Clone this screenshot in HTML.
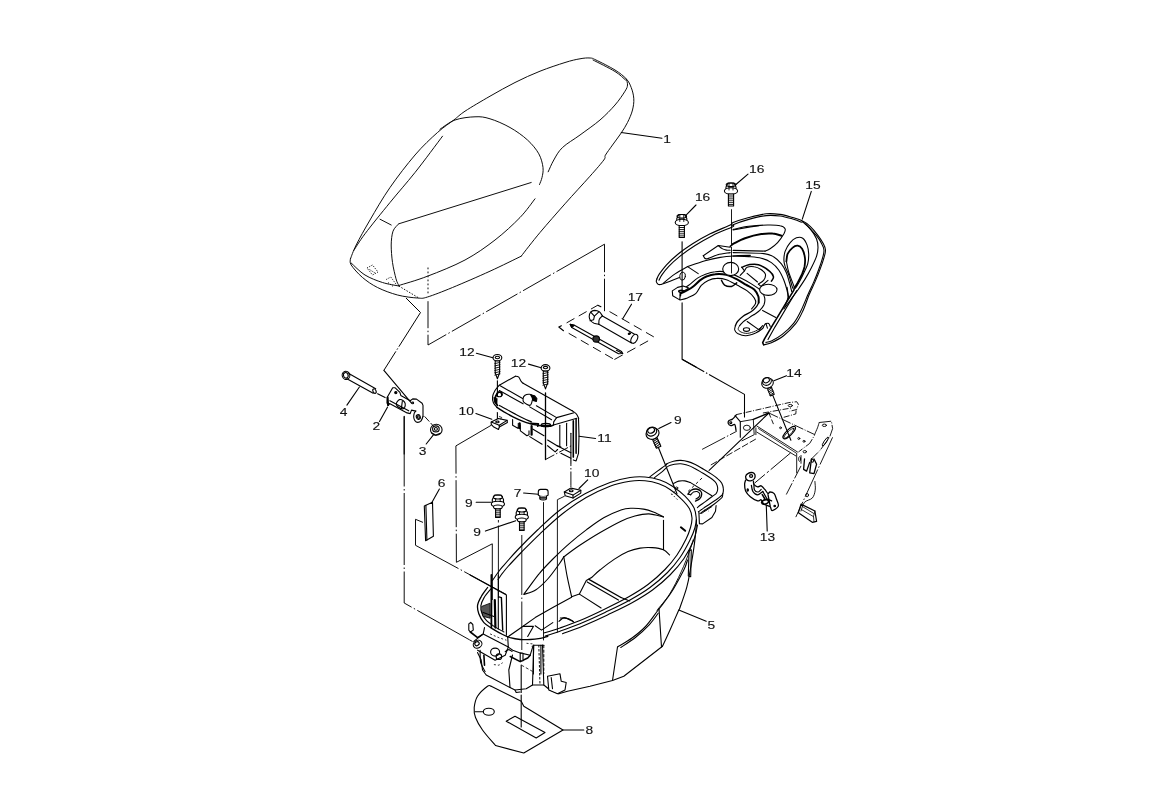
<!DOCTYPE html>
<html><head><meta charset="utf-8"><title>Seat parts diagram</title>
<style>
html,body{margin:0;padding:0;background:#fff;}
body{width:1156px;height:790px;overflow:hidden;font-family:"Liberation Sans",sans-serif;}
svg{display:block;filter:grayscale(1);}
svg path,svg ellipse,svg circle,svg line,svg rect{fill:none;stroke:#000;stroke-width:1.1;stroke-linecap:round;stroke-linejoin:round;}
svg text{font-family:"Liberation Sans",sans-serif;font-size:11.5px;fill:#111;stroke:#111;stroke-width:.13px;text-anchor:middle;}
svg .w{fill:#fff;}
svg .seat path{stroke-width:.95;}
</style></head><body>
<svg width="1156" height="790" viewBox="0 0 1156 790">
<g class="seat">
<path d="M350.5 258.8C351.4 256.5 352.9 251.5 356.2 245C359.4 238.5 364.4 229.6 370 220C375.6 210.4 382.5 198.3 390 187.5C397.5 176.7 407.1 164.2 415 155C422.9 145.8 431 138.3 437.5 132.5C444 126.7 449.2 123.5 453.8 120C458.4 116.5 459 115.2 465 111.2C471 107.2 481.7 101 490 96.2C498.3 91.4 506.7 86.7 515 82.5C523.3 78.3 531.7 74.5 540 71.2C548.3 67.9 558.3 64.6 565 62.5C571.7 60.4 575.8 59.5 580 58.8C584.2 58 587.3 57.8 590 58C592.7 58.2 591.8 58 596 60C600.2 62 610 66.9 615 70C620 73.1 623.5 75.9 626.2 78.8C628.9 81.7 629.9 84.2 631.2 87.5C632.5 90.8 633.6 95 633.8 98.8C634 102.5 633.5 106 632.5 110C631.5 114 629.4 118.7 627.5 122.5C625.6 126.3 623.7 129.2 621.2 133C618.7 136.8 615.1 141.3 612.5 145C609.9 148.7 607 152.5 605.5 155C604 157.5 606.4 156.5 603.8 160C601.2 163.5 596.5 168.9 590 176.2C583.5 183.5 573.3 194.4 565 203.8C556.7 213.2 547.3 223.8 540 232.5C532.7 241.2 524.3 252.2 521.2 256.2"/>
<path d="M521.2 256.2C516 258.7 501.4 266 490 271.2C478.6 276.4 462.9 283.2 452.5 287.5C442.1 291.8 433.3 295.2 427.5 297C421.7 298.8 422.5 298.3 417.5 298C412.5 297.7 404.2 296.8 397.5 295C390.8 293.2 383.3 290.4 377.5 287.5C371.7 284.6 366.9 281.2 362.5 277.5C358.1 273.8 353.2 268.1 351.2 265C349.2 261.9 350.6 259.8 350.5 258.8"/>
<path d="M593 60C596.7 61.9 609.6 68.2 615 71.5C620.4 74.8 623.8 78.6 625.5 80"/>
<path d="M626.2 78.8C626.5 79.8 627.7 82.9 627.5 85C627.3 87.1 627.1 87.9 625 91.2C622.9 94.6 619.2 100.2 615 105C610.8 109.8 605.8 115 600 120C594.2 125 586.2 130.4 580 135C573.8 139.6 566.9 143.3 562.5 147.5C558.1 151.7 556.1 156 553.8 160C551.4 164 549.2 169.8 548.2 171.8"/>
<path d="M440 129.2C442.5 127.7 449.2 122.1 455 120C460.8 117.9 469.2 117 475 116.8C480.8 116.5 484.2 117 490 118.8C495.8 120.5 503.8 124 510 127.5C516.2 131 522.7 135.6 527.5 140C532.3 144.4 536.2 149.2 538.8 153.8C541.3 158.3 542.5 163.5 543 167.5C543.5 171.5 542.6 174.7 542 177.5C541.4 180.3 539.9 183.3 539.5 184.5"/>
<path d="M535 198.8C532.5 201.9 526.7 210.6 520 217.5C513.3 224.4 504.2 232.9 495 240C485.8 247.1 476.2 254 465 260C453.8 266 438.5 272 427.5 276.2C416.5 280.5 403.5 284 398.8 285.5"/>
<path d="M398.8 223.8L531.2 182.5"/>
<path d="M398.8 223.8C397.8 225 394.2 227.7 393 231.2C391.8 234.8 391.3 239.8 391.2 245C391.2 250.2 391.7 256.9 392.5 262.5C393.3 268.1 395 274.9 396 278.8C397 282.6 398.3 284.4 398.8 285.5"/>
<path d="M380 219.2L391.2 225"/>
<path d="M442.5 136.2C437.9 142.3 423.8 161.5 415 172.5C406.2 183.5 398.3 192.3 390 202.5C381.7 212.7 371 225.8 365 233.8C359 241.8 355.6 247.7 353.8 250.5"/>
<path d="M351.2 263C353.5 265 359.8 271.8 365 275C370.2 278.2 376.9 280.7 382.5 282.5C388.1 284.3 396 285.4 398.8 286"/>
<path d="M398.8 286L418.8 298" style="stroke-width:0.95;stroke-dasharray:1.5 1.5;stroke-linecap:butt;"/>
<path d="M367 268L372.5 265L378 272L372.5 275Z" style="stroke-width:0.9;stroke-dasharray:1.2 1.3;stroke-linecap:butt;"/>
<path d="M369.5 269.5L375 273" style="stroke-width:0.9;stroke-dasharray:1.2 1.3;stroke-linecap:butt;"/>
<path d="M386.2 279.5L390.8 277L397 285.5" style="stroke-width:0.9;stroke-dasharray:1.2 1.3;stroke-linecap:butt;"/>
<path d="M388 282.5L393.8 287" style="stroke-width:0.9;stroke-dasharray:1.2 1.3;stroke-linecap:butt;"/>
<path d="M428 267.5L428 295" style="stroke-width:0.95;stroke-dasharray:1.8 2.2;stroke-linecap:butt;"/>
</g>
<path d="M621.2 132.5L662 138.2"/>
<text transform="translate(667 142.8) scale(1.2 1)">1</text>
<path d="M428 301.2L428 345" style="stroke-width:0.95;stroke-dasharray:27 2.5 1.5 2.5;stroke-linecap:butt;"/>
<path d="M428 345L604.5 244.2" style="stroke-width:0.95;stroke-dasharray:21 2.5 1.5 2.5 33 2.5 1.5 2.5 36 2.5 1.5 2.5 32 2.5 1.5 2.5 60 0;stroke-linecap:butt;"/>
<path d="M604.5 244.2L604.5 311.2" style="stroke-width:0.95;stroke-dasharray:28 2.5 1.5 2.5 40 0;stroke-linecap:butt;"/>
<path d="M406 298L420.5 312.5L383.9 370.3" style="stroke-width:1;stroke-dasharray:61 2 1.5 2 60 0;stroke-linecap:butt;"/>
<path d="M383.9 370.3L411.5 403.2"/>
<path d="M566.6 322.9L597.8 305.2" style="stroke-width:0.95;stroke-dasharray:9 5;stroke-linecap:butt;"/>
<path d="M561.4 325.7L558.8 327L563.5 330.7"/>
<path d="M568.7 333.3L614.4 359.5" style="stroke-width:0.95;stroke-dasharray:9 5;stroke-linecap:butt;"/>
<path d="M614.4 359.5L649.7 340" style="stroke-width:0.95;stroke-dasharray:9.5 5;stroke-linecap:butt;"/>
<path d="M653.8 336.9L606.6 309.9" style="stroke-width:0.95;stroke-dasharray:9 5;stroke-linecap:butt;"/>
<path d="M597.8 305.2L600.9 306.8"/>
<path d="M598.8 324.2C598 324.1 595.5 323.8 594.1 323.2C592.8 322.6 591.5 321.9 590.7 320.8C589.9 319.7 589.2 318.1 589.2 316.7C589.2 315.2 589.8 313.2 590.7 312.2C591.6 311.2 593.4 310.5 594.8 310.4C596.3 310.4 598 310.9 599.3 311.8C600.6 312.7 601.9 315.2 602.4 315.9"/>
<path d="M602.4 315.9C601.9 316.5 599.9 317.9 599.3 319.3C598.7 320.6 598.9 323.4 598.8 324.2"/>
<path d="M602.4 315.9L634.6 334.3"/>
<path d="M598.8 324.2L631.5 342.9"/>
<ellipse cx="634.3" cy="338.8" rx="2.9" ry="4.8" transform="rotate(28 634.3 338.8)"/>
<path d="M590.7 312.2L594.4 316.1L593.6 319.8L590 320.8"/>
<path d="M594.4 316.1L598.6 312.2"/>
<ellipse cx="629.4" cy="333.6" rx="1.2" ry="0.7" transform="rotate(-20 629.4 333.6)" style="fill:#000;"/>
<path d="M570.2 324.4L574.4 325.3L621.6 351.6L622.7 353.5L618.5 353.7L571.8 327.4Z"/>
<path d="M570.2 324.4L574.4 325.3L571.8 327.4Z" style="fill:#000;"/>
<path d="M616.4 350.2L622.7 353.5"/>
<ellipse cx="596.2" cy="339" rx="3.3" ry="3.1" style="fill:#333;"/>
<path d="M631.5 304.2L622.7 318.7"/>
<text transform="translate(635.3 300.5) scale(1.2 1)">17</text>
<ellipse cx="346" cy="375.3" rx="3.8" ry="4.1" transform="rotate(-20 346 375.3)"/>
<ellipse cx="345.8" cy="375.3" rx="2.3" ry="2.8" transform="rotate(-20 345.8 375.3)"/>
<path d="M348.8 373.5L375.7 388.8"/>
<path d="M346.9 378.8L373.2 393.2"/>
<ellipse cx="374.5" cy="391.1" rx="1.5" ry="2.4" transform="rotate(-25 374.5 391.1)"/>
<path d="M359.4 387L346.9 405.1"/>
<text transform="translate(343.5 416.2) scale(1.2 1)">4</text>
<path d="M377.6 393.8L385.1 397.6"/>
<path d="M387.4 397L392.7 387.8L395.2 387.8L399.9 392.3L400.8 395.4L410.2 400.7L412.7 398.9L416.5 399.1L422.1 403.2L423 405.4L423 416.4"/>
<path d="M423 416.4C422.7 417.1 422 419.8 421.1 420.8C420.2 421.8 418.7 422.4 417.7 422.4C416.7 422.4 415.6 421.7 415 420.8C414.3 419.9 413.8 418.3 413.7 417C413.6 415.8 413.9 414.3 414.2 413.3C414.6 412.3 415.6 411.5 415.8 411.1"/>
<path d="M415.8 411.1L411.5 410.1L410.2 413.6L407.1 412.9L389.5 403.6L388.3 405.4L387 402.9L387.4 397"/>
<path d="M387.6 397.4L388.1 405.1" style="stroke-width:2;"/>
<path d="M389.9 400.7L408.7 410.8"/>
<ellipse cx="395.8" cy="392.6" rx="1.1" ry="1.1" style="fill:#000;"/>
<ellipse cx="412.7" cy="402.9" rx="0.9" ry="0.9"/>
<ellipse cx="418.3" cy="417" rx="2" ry="2.3" transform="rotate(-20 418.3 417)"/>
<ellipse cx="418.3" cy="417" rx="1" ry="1.3" transform="rotate(-20 418.3 417)"/>
<path d="M397 402C397.6 401.2 398.5 399.8 399.5 399.6C400.6 399.4 402.4 400.1 403.3 400.7C404.2 401.4 405 402.5 405.2 403.6C405.4 404.8 405 406.8 404.6 407.6C404.1 408.5 403.5 409 402.4 408.9C401.4 408.8 399.3 407.7 398.3 407C397.3 406.3 396.6 405.5 396.4 404.6C396.2 403.8 396.5 402.8 397 402Z"/>
<path d="M402.3 401.4L401.4 408.4"/>
<path d="M404.2 416.4L404.2 454"/>
<path d="M387.6 407L379.5 421.4"/>
<text transform="translate(376.4 430.4) scale(1.2 1)">2</text>
<ellipse cx="436.3" cy="429.7" rx="5.8" ry="5.5"/>
<ellipse cx="435.9" cy="428.9" rx="3.3" ry="3"/>
<ellipse cx="435.9" cy="428.9" rx="1.5" ry="1.4"/>
<path d="M431.5 432.7L435.3 435.2L440.3 433.3"/>
<path d="M424.6 416.4L434 426.7" style="stroke-width:0.95;stroke-dasharray:7 2;stroke-linecap:butt;"/>
<path d="M434 434.2L426.2 444"/>
<text transform="translate(422.5 454.9) scale(1.2 1)">3</text>
<ellipse cx="497.4" cy="357.8" rx="4.4" ry="3.3" class="w"/>
<ellipse cx="497.4" cy="357.5" rx="2.2" ry="1.2"/>
<path d="M495.2 361L495.2 372.8L497.4 378.8L499.6 372.8L499.6 361Z" style="fill:#fff;"/>
<path d="M494.8 363.6L500 362.4" style="stroke-width:0.9;"/>
<path d="M494.8 365.9L500 364.7" style="stroke-width:0.9;"/>
<path d="M494.8 368.2L500 367" style="stroke-width:0.9;"/>
<path d="M494.8 370.5L500 369.3" style="stroke-width:0.9;"/>
<path d="M494.8 372.8L500 371.6" style="stroke-width:0.9;"/>
<path d="M494.8 375.1L500 373.9" style="stroke-width:0.9;"/>
<ellipse cx="545.5" cy="367.9" rx="4.4" ry="3.3" class="w"/>
<ellipse cx="545.5" cy="367.6" rx="2.2" ry="1.2"/>
<path d="M543.3 371.1L543.3 382.9L545.5 388.9L547.7 382.9L547.7 371.1Z" style="fill:#fff;"/>
<path d="M542.9 373.7L548.1 372.5" style="stroke-width:0.9;"/>
<path d="M542.9 376L548.1 374.8" style="stroke-width:0.9;"/>
<path d="M542.9 378.3L548.1 377.1" style="stroke-width:0.9;"/>
<path d="M542.9 380.6L548.1 379.4" style="stroke-width:0.9;"/>
<path d="M542.9 382.9L548.1 381.7" style="stroke-width:0.9;"/>
<path d="M542.9 385.2L548.1 384" style="stroke-width:0.9;"/>
<path d="M497.4 380.7L497.4 396.3"/>
<path d="M497.4 412.6L497.4 420.7"/>
<path d="M476.4 353.3L492.9 357.8"/>
<text transform="translate(467 356.2) scale(1.2 1)">12</text>
<path d="M528.5 364.1L541.1 367.8"/>
<text transform="translate(518.4 367) scale(1.2 1)">12</text>
<path d="M545.5 393L545.5 459.5" style="stroke-width:1.3;"/>
<path d="M545.5 459.5L571.4 445.7" style="stroke-width:0.95;stroke-dasharray:10 2 1.5 2;stroke-linecap:butt;"/>
<path d="M499.3 385.2L515.4 376.2"/>
<path d="M515.4 376.2C516 376.3 517.8 376.3 518.8 377.1C519.7 378 520.4 380.4 521.2 381.4C521.9 382.4 522.7 383 523.1 383.3"/>
<path d="M523.1 383.3L572.5 410.9"/>
<path d="M572.5 410.9C573.2 411.4 575.3 412.5 576.3 413.8C577.4 415 578.3 417.7 578.7 418.5"/>
<path d="M578.5 418.6L579 436.2L578.5 453.3L576.1 460.9L573.3 459.9"/>
<path d="M500.2 385.8L522.6 398.5"/>
<path d="M536.4 405.8L556.6 417.6"/>
<path d="M499.3 390.5L523.1 403.8"/>
<path d="M529.7 406.9L551.6 419.7"/>
<path d="M556.6 417.6L574 412.8"/>
<path d="M556.6 417.6L553.7 421.9L553.5 425L576.8 418.3"/>
<path d="M499.3 385.2C498.6 386.1 496.1 388.6 495 390.5C493.9 392.4 492.9 394.6 492.6 396.6C492.3 398.7 492.7 401 493.4 402.8C494.1 404.6 496.3 406.6 496.9 407.3"/>
<path d="M498.3 392.1C497.8 392.8 496 395.1 495.5 396.6C494.9 398.2 494.7 399.9 495 401.4C495.3 402.9 497 404.7 497.4 405.4" style="stroke-width:1.8;"/>
<ellipse cx="499.3" cy="394.5" rx="2.7" ry="2.3"/>
<path d="M494.1 397.4L497.2 398.5L497 404.1L494.7 402.4Z" style="stroke-width:0.6;fill:#000;"/>
<path d="M499.3 392.1C499.6 392.2 500.9 392.4 501.4 392.8C501.8 393.3 501.8 394.6 501.9 394.9" style="stroke-width:1.8;"/>
<path d="M496.9 407.3C498.1 408.1 501.3 410.2 504 411.9C506.8 413.5 510.4 415.5 513.5 417.1C516.7 418.7 520.2 420.3 523.1 421.4C525.9 422.5 528.1 423.1 530.7 423.8C533.2 424.4 535.7 424.9 538.3 425.4C540.8 425.8 543.7 426.3 545.9 426.3C548.1 426.4 550.3 426 551.6 425.8C552.9 425.5 553.2 425.1 553.5 425" style="stroke-width:1.4;"/>
<path d="M499.3 405.4C500.4 406 503.1 407.5 505.9 409C508.8 410.6 513.1 413 516.4 414.7C519.7 416.5 523.4 418.3 525.9 419.5C528.5 420.7 530.7 421.5 531.6 421.9"/>
<path d="M559.8 425.2L559.8 446.6"/>
<path d="M566.6 423.3L566.6 445.7"/>
<path d="M573.3 420.9L573.3 457.1" style="stroke-width:1.6;"/>
<path d="M576.1 419L576.1 453.3" style="stroke-width:1.5;"/>
<path d="M570.9 433.3L570.9 462.8"/>
<path d="M547.6 440L557.1 445.7L560.9 447.1"/>
<path d="M547.6 445.7L555.2 451.9L557.6 449.5"/>
<path d="M560.9 453.3L570.9 458.2"/>
<path d="M557.1 445.7L570.9 452.8"/>
<path d="M523.1 398.5C523.2 397.4 523.9 395.9 525 395.2C526.1 394.5 528.5 394.1 529.7 394.3C531 394.5 532.2 395.1 532.6 396.5C532.9 397.8 532.3 400.9 531.8 402.4C531.3 403.8 531.1 405.4 529.7 405.4C528.4 405.4 524.9 403.3 523.8 402.2C522.7 401 522.9 399.7 523.1 398.5Z" style="fill:#fff;"/>
<path d="M530.7 394.9L534.5 395.7L536.9 398.5L536.4 401.4L533 400.4L532.1 397.6Z" style="fill:#000;"/>
<path d="M512.6 419.5L512.6 425.2L518.3 428.5L518.3 423.3"/>
<path d="M520.2 424.7L520.4 430.9L526.9 435.7L529 434.7L529 430.9"/>
<path d="M531.6 426.1L531.6 434.7" style="stroke-width:2.2;"/>
<path d="M519.7 423.3L519.7 428.2" style="stroke-width:2;"/>
<path d="M532.6 429L544 435.7"/>
<path d="M529.7 436.6L542.1 444.2"/>
<path d="M530.7 423.3L538.3 423.8L537.8 426.1" style="stroke-width:1.8;"/>
<ellipse cx="545.9" cy="425" rx="4.6" ry="1.6" style="stroke-width:1.5;"/>
<path d="M542.1 425.9L550.7 426.1" style="stroke-width:2;"/>
<path d="M579 436.2L595.6 438.5"/>
<text transform="translate(604.4 442.2) scale(1.2 1)">11</text>
<path d="M570.9 463L570.9 487" style="stroke-width:0.95;stroke-dasharray:3 2 1.5 2 14 0;stroke-linecap:butt;"/>
<path d="M491.2 422.1L498.3 418.5L507.1 420.4L507.4 422.5L499.3 427.1L498.5 429.5L493.8 427.1L491.2 424.4Z" style="fill:#fff;"/>
<path d="M491.2 422.1L499.3 425.2L507.1 420.4"/>
<path d="M499.3 425.2L499.3 427.1"/>
<ellipse cx="497.4" cy="421.9" rx="1.7" ry="0.9"/>
<path d="M499.3 416.6L501.7 417.4L500.7 419" style="stroke-width:0.8;"/>
<path d="M475.9 413.6L491.8 419.2"/>
<text transform="translate(466.2 415) scale(1.2 1)">10</text>
<path d="M564.3 491.9L570.9 488.1L580.8 490.2L580.8 493.1L573 498L565.2 495.8Z" style="fill:#fff;"/>
<path d="M564.3 491.9L573 495.1L580.8 490.2"/>
<path d="M573 495.1L573 498"/>
<ellipse cx="571.2" cy="490.7" rx="1.9" ry="1"/>
<path d="M587.7 479.8L579 488.5"/>
<text transform="translate(591.7 476.9) scale(1.2 1)">10</text>
<path d="M656.9 278.9C657.3 278.1 657.8 276.2 659.4 273.9C661 271.6 663.3 268.4 666.3 265.1C669.3 261.9 673.2 258 677.6 254.5C682 250.9 687.2 247.3 692.6 243.8C698 240.4 703.9 236.9 710.2 233.8C716.4 230.7 726.4 226.9 730.2 225C734 223.1 730 223.8 733.1 222.5C736.2 221.3 743.3 219 748.8 217.5C754.3 216.1 761.1 214.3 766.3 213.8C771.6 213.2 775.7 213.8 780.1 214.4C784.5 215 789 216.5 792.7 217.5C796.3 218.6 799.1 219.2 802.1 220.7C805 222.1 807.6 223.9 810.2 226.3C812.8 228.7 815.5 232.1 817.7 235.1C819.9 238 822.1 241.3 823.4 243.8C824.7 246.3 825.4 247.8 825.5 250.1C825.6 252.4 824.9 254.5 824 257.6C823.1 260.8 821.7 264.9 820.2 268.9C818.8 272.9 817.1 277 815.2 281.4C813.3 285.8 811 290.2 808.9 295.2C806.9 300.2 804.9 306.8 802.6 311.5C800.4 316.3 798.9 319.6 795.7 323.7C792.5 327.7 787.6 332.6 783.6 335.8C779.5 339 774.7 341.2 771.4 342.7C768.1 344.3 764.9 344.5 763.6 344.8"/>
<path d="M659 280.2C659.5 279.3 660.3 277.2 661.9 274.9C663.5 272.6 665.8 269.5 668.8 266.4C671.8 263.2 675.7 259.6 680.1 256.1C684.5 252.6 689.7 248.9 695.1 245.5C700.5 242 706.4 238.6 712.7 235.4C718.9 232.3 729.3 228.4 732.7 226.7C736.1 224.9 730.5 226 733.1 224.8C735.8 223.6 743.3 220.9 748.8 219.4C754.3 217.9 761.1 216.2 766.3 215.6C771.6 215.1 775.7 215.5 780.1 216C784.5 216.6 789.1 218 792.7 219C796.2 220 800 221.6 801.4 222.2"/>
<path d="M805.2 223.8C807.1 225.8 813.6 232.2 816.5 235.7C819.3 239.1 820.9 242 822.1 244.5C823.4 246.9 823.9 248.1 824 250.4C824 252.6 823.4 255.1 822.5 258.2C821.6 261.4 820.2 265.6 818.7 269.5C817.3 273.5 815.6 277.7 813.7 282.1C811.8 286.4 809.6 290.9 807.4 295.8C805.3 300.8 802.9 306.9 800.6 311.5C798.3 316.1 796.7 319.5 793.6 323.3C790.6 327.1 785.9 331.5 782.2 334.4C778.5 337.4 774.1 339.7 771.4 341C768.7 342.3 766.8 342.2 765.9 342.4"/>
<path d="M656.9 278.9C656.8 279.4 656.1 280.8 656.3 281.7C656.5 282.6 657.4 283.8 658.1 284.3C658.9 284.8 660.5 284.5 661 284.5"/>
<path d="M661 284.5C662.5 284 667 282.4 670.1 281.2C673.1 280 677.9 278 679.4 277.4"/>
<path d="M663.2 283.3C665.1 281.7 671 276.7 675.1 273.9C679.1 271.1 685.5 267.8 687.6 266.6"/>
<path d="M687.6 266.6L698.2 273.6"/>
<ellipse cx="682.6" cy="276.2" rx="2.8" ry="4" transform="rotate(10 682.6 276.2)" style="stroke-width:0.9;"/>
<path d="M687.6 266.6C690.5 265.6 699.7 262.3 705.1 260.7C710.6 259.2 715.2 258.2 720.2 257.4C725.2 256.5 730.2 256.1 735.2 255.7C740.2 255.4 747.7 255.4 750.3 255.4"/>
<path d="M733.1 256.1C735.7 256.2 744.1 256.3 748.8 256.6C753.5 257 757.6 257.2 761.3 258.2C765.1 259.2 768.4 260.6 771.4 262.6C774.3 264.6 776.8 267.2 778.9 270.2C781 273.1 782.5 276.8 783.9 280.2C785.2 283.5 786.3 287.3 787 290.2C787.7 293.1 788.2 295.2 787.9 297.7C787.6 300.2 785.6 304 785.1 305.2"/>
<path d="M733.1 252.6C738.2 252.8 757 252.9 763.8 253.6C770.6 254.3 770.9 255.3 773.9 257C776.8 258.7 779.3 261.3 781.4 263.9C783.5 266.5 785 269.5 786.4 272.7C787.7 275.8 788.6 279.5 789.5 282.7C790.4 285.8 791.3 290 791.7 291.5"/>
<path d="M703.3 255.7L718.3 245.5L730.2 247.3"/>
<path d="M718.3 245.5C718.9 246 720.7 247.8 722.1 248.6C723.4 249.4 725.1 249.8 726.4 250.1C727.8 250.4 729.6 250.3 730.2 250.3"/>
<path d="M703.3 255.7C703.8 256.2 704 259 706.4 258.9C708.8 258.7 713.7 255.9 717.7 254.8C721.6 253.8 728.1 253 730.2 252.6"/>
<path d="M733.1 229.4C735.7 228.9 743.1 227 748.8 226.3C754.5 225.6 762.4 225.1 767.6 225C772.8 224.9 777.2 225 780.1 225.7C783 226.3 784.5 227.4 785.1 228.8C785.8 230.2 785.1 231.5 783.9 233.8C782.6 236.1 779.9 240.1 777.6 242.6C775.3 245.1 772.2 247.4 770.1 248.8C768 250.3 765.9 250.7 765.1 251.1"/>
<path d="M765.1 251.1L733.1 250.4"/>
<path d="M733.1 243.8C735.1 242.9 740.3 239.8 745 238.2C749.7 236.6 756.7 234.8 761.3 234.1C765.9 233.3 769.3 233.3 772.6 233.6C775.9 233.8 779.9 235.3 781.4 235.7" style="stroke-width:2;"/>
<path d="M732.7 244.4L730.2 246.3" style="stroke-width:1.5;"/>
<path d="M733 230L750.3 226.9L759 225.7"/>
<path d="M783.9 260.1C783.9 257.6 784.1 254.3 785.1 251.4C786.2 248.4 788.3 244.8 790.2 242.6C792 240.3 794.3 238.6 796.4 237.8C798.5 237.1 800.9 237 802.7 238.2C804.5 239.4 806.1 242.5 807.1 245.1C808.1 247.7 808.6 250.7 808.7 253.9C808.8 257 808.5 260.8 807.7 263.9C806.9 267 805.2 269.9 803.9 272.7C802.7 275.4 801.6 277.6 800.2 280.2C798.7 282.8 796.4 287.1 795.2 288.3C793.9 289.6 793.7 289.9 792.7 287.7C791.6 285.5 790.2 278.7 788.9 275.2C787.6 271.6 786 268.9 785.1 266.4C784.3 263.9 783.9 262.6 783.9 260.1Z"/>
<path d="M786.4 261.4C786.6 260.1 786.6 256.2 787.6 253.9C788.7 251.6 791 249 792.7 247.6C794.3 246.2 796.1 245.5 797.7 245.7C799.2 245.9 800.8 246.9 802.1 248.8C803.3 250.8 804.5 254.7 804.9 257.6C805.4 260.5 805 263.7 804.6 266.4C804.1 269.1 803.2 271.2 802.1 273.9C800.9 276.6 798.9 280.4 797.7 282.7C796.4 285 795.1 286.9 794.5 287.7" style="stroke-width:1.8;"/>
<path d="M786.4 261.4C786.8 263.3 787.5 268.3 788.9 272.7C790.3 277 793.6 285.2 794.5 287.7"/>
<path d="M802.1 221.5C803.4 222.7 807.8 225.9 810.2 228.8C812.6 231.7 815.2 235.7 816.5 238.8C817.8 242 818 244.7 818 247.6C818 250.5 817.6 253 816.5 256.4C815.4 259.7 813.3 263.9 811.5 267.6C809.6 271.4 807.5 275.2 805.2 278.9C802.9 282.7 800.2 286.6 797.7 290.2C795.2 293.8 792.4 297.1 790.2 300.2C787.9 303.4 784.9 307.5 783.9 309"/>
<path d="M794 289.8L771.4 327.1L764.5 338.9L762.7 342.7L763.6 344.8" style="stroke-width:1.6;"/>
<path d="M796.6 290.7L774.9 327.1L768 339.6"/>
<path d="M788.8 298.5L787 287.2"/>
<path d="M679.7 293.7C680.7 293.2 683.8 292.1 686 290.9C688.2 289.7 690.6 288.5 692.9 286.7C695.2 285 697.6 282.2 699.9 280.4C702.2 278.7 704.3 277.3 706.9 276.3C709.4 275.2 712 274.4 715.2 274.2C718.5 273.9 722.6 273.9 726.4 274.9C730.1 275.8 734.2 278.1 737.5 279.7C740.7 281.4 743.1 283 745.8 284.6C748.6 286.2 752.1 287.5 754.2 289.5C756.3 291.5 757.6 294.3 758.4 296.5C759.1 298.7 758.6 301.7 758.7 302.7" style="stroke-width:2;"/>
<path d="M758.7 302.7C758.3 303.4 757.5 305.4 756.3 306.9C755.1 308.4 753.6 309.9 751.4 311.5C749.2 313.1 745.4 314.6 743.1 316.2C740.7 317.9 738.8 320 737.5 321.5C736.2 323.1 735.8 325 735.4 325.7" style="stroke-width:1.3;"/>
<path d="M681.8 289.5C682.9 288.8 686.2 287.2 688.7 285.3C691.3 283.5 694.3 280.2 697.1 278.4C699.9 276.5 702.4 275.3 705.5 274.2C708.5 273.1 711.7 272 715.2 271.7C718.7 271.3 722.2 271.1 726.4 272.1C730.5 273.1 736.1 275.7 740.3 277.7C744.5 279.6 747.9 281.7 751.4 283.9C754.9 286.1 759 288.6 761.2 290.9C763.4 293.2 764.2 295.5 764.7 297.9C765.1 300.2 764.8 302.7 764 304.8C763.1 306.9 761.4 308.8 759.8 310.4C758.2 312 755.1 313.9 754.2 314.6"/>
<path d="M680.4 299.9C681.6 299.6 684.8 298.9 687.4 297.9C689.9 296.8 693.4 295.8 695.7 293.7C698 291.6 699.2 287.5 701.3 285.3C703.4 283.1 705.7 281.6 708.2 280.4C710.8 279.3 713.6 278.5 716.6 278.4C719.6 278.2 722.9 278.6 726.4 279.7C729.8 280.9 734 283.5 737.5 285.3C741 287.2 744.5 288.8 747.2 290.9C750 293 752.8 295.8 754.2 297.9C755.6 299.9 756.1 301.6 755.6 303.4C755.1 305.3 752.1 308.1 751.4 309"/>
<path d="M754.2 314.6C753.3 315.1 750.5 316.8 748.6 318.1C746.8 319.3 744.6 320.5 743.1 321.8C741.6 323.1 740.2 325.1 739.6 325.7"/>
<path d="M672.3 290.9L677.6 287.4L683.2 286L688.7 288.1L680.4 293L679.7 299.9L672.7 295.8Z" style="fill:#fff;"/>
<path d="M680.4 293L680.4 295.8" style="stroke-width:1.6;"/>
<ellipse cx="681.2" cy="291.3" rx="2.5" ry="1.1" style="stroke-width:1.4;"/>
<ellipse cx="730.7" cy="269" rx="8" ry="6.6" style="fill:#fff;"/>
<path d="M721.5 280.3C722 281.1 722.9 284.1 724.6 285.2C726.3 286.2 729.5 286.8 731.5 286.4C733.6 286 735.9 283.5 736.7 282.9" style="stroke-width:1.5;"/>
<ellipse cx="768.3" cy="289.8" rx="8.7" ry="5.6" style="fill:#fff;"/>
<path d="M741.9 267.3C743.1 266.9 746.1 265.1 748.9 264.7C751.6 264.3 754.9 263.6 758.4 264.7C761.9 265.8 767.2 269.3 769.7 271.3C772.2 273.3 773.2 275.2 773.5 276.8C773.8 278.5 771.8 280.4 771.4 281.2" style="stroke-width:1.5;"/>
<path d="M744.5 270.8C745 270.2 745.5 268 747.1 267.3C748.7 266.6 751.8 266.4 754.1 266.8C756.4 267.1 759.1 268.3 761 269.5C762.9 270.8 764.9 272.4 765.4 274.2C765.8 276 764.8 278.7 763.6 280.3C762.5 282 759.3 283.5 758.4 284.1"/>
<path d="M741.9 267.3L744.5 270.8L740.2 275.4"/>
<path d="M758.4 284.1L761 286.4L768 280.3"/>
<path d="M747.1 273.4L757.5 282"/>
<path d="M735.4 325.7C735.3 326.4 734.4 328.6 734.7 329.9C735.1 331.2 735.6 332.4 737.5 333.4C739.4 334.3 742.8 335.8 745.8 335.7C748.9 335.7 752.8 334.2 755.6 333C758.4 331.7 761.2 329.7 762.6 328.5C764 327.3 763.4 326.5 764 325.7C764.5 324.9 765.2 324 766 323.6C766.9 323.3 768.1 323.2 768.8 323.6C769.5 324.1 770 325.9 770.2 326.4"/>
<path d="M739.6 325.7C739.4 326.3 738 328.1 738.2 329.2C738.4 330.2 739.5 331.3 741 332C742.5 332.7 744.8 333.5 747.2 333.4C749.7 333.2 753.3 332 755.6 331C757.9 330 760 328 760.9 327.4" style="stroke-width:0.9;"/>
<ellipse cx="746.5" cy="329.6" rx="3.1" ry="1.8"/>
<path d="M747.2 321.5L759.1 329.9L762.6 325.7"/>
<path d="M762.6 310.4L775.8 317.4"/>
<path d="M766 323.6L767.4 328.2"/>
<path d="M811.3 191.4L802.3 219.2"/>
<text transform="translate(813 188.5) scale(1.2 1)">15</text>
<path d="M726 187L728 183L734 183L736 187L736 191L726 191Z" style="fill:#fff;"/>
<ellipse cx="731" cy="191" rx="6.6" ry="3.2" class="w"/>
<path d="M729 183.5L729 190M733 183.5L733 190" style="stroke-width:0.9;"/>
<ellipse cx="731" cy="184.8" rx="4.8" ry="1.8"/>
<path d="M728.4 194L728.4 206L733.6 206L733.6 194Z" style="fill:#fff;"/>
<path d="M728.4 196L733.6 196" style="stroke-width:0.9;"/>
<path d="M728.4 198.1L733.6 198.1" style="stroke-width:0.9;"/>
<path d="M728.4 200.2L733.6 200.2" style="stroke-width:0.9;"/>
<path d="M728.4 202.3L733.6 202.3" style="stroke-width:0.9;"/>
<path d="M728.4 204.4L733.6 204.4" style="stroke-width:0.9;"/>
<path d="M676.8 218.5L678.8 214.5L684.8 214.5L686.8 218.5L686.8 222.5L676.8 222.5Z" style="fill:#fff;"/>
<ellipse cx="681.8" cy="222.5" rx="6.6" ry="3.2" class="w"/>
<path d="M679.8 215L679.8 221.5M683.8 215L683.8 221.5" style="stroke-width:0.9;"/>
<ellipse cx="681.8" cy="216.3" rx="4.8" ry="1.8"/>
<path d="M679.2 225.5L679.2 237.5L684.4 237.5L684.4 225.5Z" style="fill:#fff;"/>
<path d="M679.2 227.5L684.4 227.5" style="stroke-width:0.9;"/>
<path d="M679.2 229.6L684.4 229.6" style="stroke-width:0.9;"/>
<path d="M679.2 231.7L684.4 231.7" style="stroke-width:0.9;"/>
<path d="M679.2 233.8L684.4 233.8" style="stroke-width:0.9;"/>
<path d="M679.2 235.9L684.4 235.9" style="stroke-width:0.9;"/>
<path d="M731.5 209.6L731.5 245.2" style="stroke-width:0.9;"/>
<path d="M731.5 247.3L731.5 273" style="stroke-width:0.9;"/>
<path d="M682.1 241.7L682.1 291.2"/>
<path d="M748 174.1L735.9 184.5"/>
<text transform="translate(756.7 172.9) scale(1.2 1)">16</text>
<path d="M696 205L685.6 215.7"/>
<text transform="translate(702.6 201.2) scale(1.2 1)">16</text>
<path d="M682.1 302.9L682.1 359.2L696 367"/>
<path d="M492.5 580.5C493.4 579.2 496.2 574.9 498 572.5C499.8 570.1 499.8 570 503 566.2C506.2 562.5 511.8 556 517.5 550C523.2 544 530.4 536.7 537.5 530C544.6 523.3 552.1 516 560 510C567.9 504 576.7 498.3 585 493.8C593.3 489.2 602.5 485.2 610 482.5C617.5 479.8 624.2 478.4 630 477.5C635.8 476.6 640 476.6 645 477C650 477.4 655.4 478.5 660 480C664.6 481.5 668.3 483.5 672.5 486.2C676.7 489 681.5 492.7 685 496.2C688.5 499.8 691.9 504 693.8 507.5C695.6 511 696 514.2 696.2 517.5C696.5 520.8 696 523.8 695 527.5C694 531.2 692.5 535 690 540C687.5 545 683.8 552.1 680 557.5C676.2 562.9 672.5 567.5 667.5 572.5C662.5 577.5 656.2 582.9 650 587.5C643.8 592.1 637.5 595.8 630 600C622.5 604.2 613.3 608.5 605 612.5C596.7 616.5 587.5 620.6 580 623.8C572.5 626.9 565.8 629.2 560 631.2C554.2 633.3 547.5 635.4 545 636.2"/>
<path d="M498 579.5C498.8 578.5 500.8 575.4 502.5 573.2C504.2 571.1 504.9 570 508 566.5C511.1 563 515.9 558 521.2 552.5C526.6 547 533.1 540.2 540 533.8C546.9 527.3 554.8 519.8 562.5 513.8C570.2 507.7 578.3 502.1 586.2 497.5C594.2 492.9 602.7 489 610 486.2C617.3 483.5 624.2 482.2 630 481.2C635.8 480.3 640.2 480.3 645 480.8C649.8 481.2 654.6 482.3 658.8 483.8C662.9 485.2 666.2 487 670 489.5C673.8 492 678 495.5 681.2 498.8C684.5 502 687.7 505.5 689.5 508.8C691.3 512 691.8 514.9 692 518C692.2 521.1 691.5 524 690.5 527.5C689.5 531 688.5 534.2 686.2 538.8C684 543.3 680.5 549.9 677 555C673.5 560.1 669.8 564.6 665 569.5C660.2 574.4 654 580 648 584.5C642 589 636 592.6 628.8 596.8C621.5 600.9 612.6 605.3 604.5 609.2C596.4 613.2 587.4 617.4 580 620.5C572.6 623.6 566 625.9 560 628C554 630.1 546.5 632.2 543.8 633"/>
<path d="M697.5 525C696.9 527.5 696 534.4 693.8 540C691.5 545.6 687.7 552.9 683.8 558.8C679.8 564.6 675.2 569.8 670 575C664.8 580.2 658.8 585.4 652.5 590C646.2 594.6 640 598.3 632.5 602.5C625 606.7 615.8 611 607.5 615C599.2 619 590 623.1 582.5 626.2C575 629.4 565.8 632.5 562.5 633.8"/>
<path d="M649.8 476.9C651.2 475.8 655.4 472.6 658.1 470.6C660.9 468.6 665.1 465.8 666.4 464.7C667.8 463.6 665.1 464.6 666.2 464C667.4 463.4 671.1 461.8 673.5 461.2C675.9 460.6 678.3 460.3 680.8 460.4C683.2 460.5 685.6 460.9 688 461.6C690.5 462.3 692.7 463.3 695.3 464.5C697.9 465.8 700.8 467.6 703.6 469.2C706.4 470.8 709.5 472.8 711.9 474.4C714.3 476 716.5 477.6 718.1 479.1C719.8 480.5 720.9 481.7 721.8 483.2C722.6 484.8 723.2 486.7 723.3 488.4C723.5 490.1 723.3 492.2 722.8 493.6C722.3 495 721.3 495.7 720.2 496.7C719.1 497.8 717.8 498.6 716.1 499.8C714.3 501 711.9 502.6 709.8 504C707.8 505.4 705.5 506.8 703.6 508.1C701.7 509.4 699.3 511.2 698.4 511.8"/>
<path d="M654.5 477.6C655.8 476.6 660 473.6 662.3 471.7C664.6 469.7 666.3 467.3 668.3 466.1C670.3 464.9 672.5 464.7 674.5 464.3C676.6 463.9 678.7 463.7 680.8 463.8C682.8 463.9 684.7 464.3 687 465.1C689.2 465.8 691.7 466.8 694.3 468.2C696.9 469.5 700 471.5 702.6 473C705.2 474.6 707.8 476.1 709.8 477.5C711.9 478.9 713.8 480.3 715 481.7C716.3 483 716.9 484.4 717.3 485.8C717.7 487.2 717.8 488.7 717.6 490C717.4 491.3 717 492.5 716.1 493.6C715.1 494.7 713.6 495.4 711.9 496.7C710.2 498 707.6 500 705.7 501.4C703.8 502.8 701.9 504 700.5 505C699.1 506.1 697.9 507.2 697.4 507.6"/>
<path d="M722.8 493.6C722.7 494.2 722.8 495.9 722.3 496.9C721.8 497.9 721.1 498.4 719.7 499.6C718.3 500.8 716.3 502.5 714 504.2C711.6 505.9 708 508.1 705.7 509.7C703.3 511.2 700.9 512.9 700 513.5"/>
<path d="M698.9 512.3L699.4 523.7L702.6 523.9L711.9 517.5L715.5 511.2L716.1 505.5"/>
<path d="M701.5 513.5L711.9 506.6" style="stroke-width:0.9;"/>
<path d="M704.6 509.7L708.8 511.2" style="stroke-width:0.8;stroke-dasharray:2 2;stroke-linecap:butt;"/>
<path d="M673.5 483.4C674.4 483 676.8 481.6 678.7 481.1C680.6 480.7 683 480.7 684.9 480.9C686.8 481.1 689.2 482.1 690.1 482.4"/>
<path d="M690.1 482.4L711.9 495.7"/>
<path d="M688 494.1C688.5 493.5 689.8 491.1 691.1 490.3C692.5 489.4 694.7 488.9 696.3 489C697.9 489.2 699.8 490.1 700.7 491.1C701.6 492.1 701.9 493.6 701.7 494.8C701.6 496.1 700.7 497.8 699.7 498.8C698.6 499.8 696.2 500.7 695.5 501.1" style="stroke-width:1.3;"/>
<path d="M690.7 494.8C691.2 494.4 692.4 492.7 693.4 492.1C694.5 491.6 695.9 491.3 697 491.5C698 491.8 699.3 492.7 699.7 493.6C700 494.5 699.7 496 699 496.9C698.4 497.8 696.4 498.7 695.9 499"/>
<path d="M688 494.1L690.7 494.8"/>
<path d="M688 491.5L703.6 476.5" style="stroke-width:0.9;stroke-dasharray:3 2.5;stroke-linecap:butt;"/>
<ellipse cx="676.6" cy="488" rx="1.2" ry="1" style="stroke-width:0.9;"/>
<path d="M671.4 493.6L678.7 500.9" style="stroke-width:0.9;stroke-dasharray:1.5 2;stroke-linecap:butt;"/>
<path d="M674.7 491.5L671.4 494.8" style="stroke-width:0.9;stroke-dasharray:1.5 2;stroke-linecap:butt;"/>
<path d="M523.9 594.1C524.7 592.9 526.5 590.6 529.1 587.1C531.7 583.7 535.4 578 539.5 573.3C543.5 568.5 548.5 563.4 553.4 558.5C558.3 553.6 563.5 548.5 569 543.8C574.5 539 580.5 534.2 586.3 529.9C592.1 525.6 597.9 521.1 603.7 517.8C609.5 514.4 616.4 511.5 621 509.9C625.6 508.4 627.7 508.4 631.4 508.2C635.2 508.1 639.8 508.4 643.6 509.1C647.3 509.7 650.6 510.9 654 512.2C657.3 513.5 661.9 516.1 663.5 516.9"/>
<path d="M523.9 594.4C525.9 593.6 532 592.4 536 589.7C540.1 587.1 544.3 582.8 548.2 578.5C552.1 574.1 556.8 567.3 559.4 563.7C562 560.1 563.1 557.9 563.8 556.8"/>
<path d="M563.8 556.8C566.4 554.9 573.3 549.6 579.4 545.5C585.5 541.5 593.3 536.5 600.2 532.5C607.1 528.5 615.2 524 621 521.2C626.8 518.5 630.3 517.2 634.9 516C639.5 514.8 644 513.8 648.8 513.9C653.5 514.1 661.1 516.4 663.5 516.9"/>
<path d="M663.5 520.4L663.5 549.8"/>
<path d="M563.8 556.8C564.4 560.1 565.9 570.1 567.2 576.7C568.5 583.4 570.9 593.4 571.6 596.7"/>
<path d="M591.5 577.6C593 576.3 596.4 572.8 600.2 569.8C604 566.8 609.5 562.4 614.1 559.4C618.7 556.3 623.6 553.5 628 551.6C632.3 549.7 636 548.8 640.1 548.1C644.1 547.4 648.3 547.3 652.2 547.6C656.1 547.9 660.6 548.6 663.5 549.8C666.4 551.1 668.6 554.2 669.6 555"/>
<path d="M591.5 577.6L586.3 580.5L579.4 594.1L571.6 596.7"/>
<path d="M588.9 579.3L621 597.5" style="stroke-width:1.4;"/>
<path d="M587.2 581.9L618.4 600.1"/>
<path d="M579.4 594.1L601.1 608"/>
<path d="M621 597.5L629.7 601"/>
<path d="M560.3 618C561.5 618.1 565.1 617.8 567.2 618.4C569.4 618.9 572.3 621 573.3 621.5"/>
<path d="M680.9 527.3L685.2 530.8" style="stroke-width:2;"/>
<path d="M696.5 519.5C696.5 521 696.4 524.1 696 528.7C695.6 533.2 695 540.1 694 546.8C693.1 553.5 691.6 562.3 690.4 569C689.2 575.8 688.7 580.4 686.8 587.1C685 593.8 680.6 605.7 679.3 609.4"/>
<path d="M657 610.2C659.1 607.5 665.5 600.5 669.6 594.1C673.6 587.7 677.9 579 681.2 571.8C684.6 564.6 687.6 556.3 689.6 551C691.6 545.6 692.6 541.7 693.2 539.8" style="stroke-width:0.9;"/>
<path d="M678.8 610C677.3 613.3 672.7 624 670 630C667.3 636 663.8 643.5 662.5 646.2"/>
<path d="M662.5 646.2L623.8 676.2L612.5 680.5L590 686.2L567.5 691.2L558.8 693.8"/>
<path d="M689 550.7L691.3 549.8L690.7 576.7L688.3 575.9L689 550.7"/>
<path d="M617.5 647C619.9 645.5 627.3 641.4 632 638C636.7 634.6 641.2 631.1 645.5 626.5C649.8 621.9 653.5 616.2 657.8 610.5C662 604.8 666.9 599.2 671.2 592.5C675.6 585.8 681 575.4 683.8 570C686.5 564.6 686.9 561.7 687.5 560"/>
<path d="M620.8 647.5C623.3 645.8 631.2 640.8 636 637C640.8 633.2 645.5 628.7 649.2 624.8C653 620.8 656.8 615.2 658.2 613.2"/>
<path d="M659 608.8L661.5 647"/>
<path d="M617.5 647L612.5 680.5"/>
<path d="M678.8 610L706.2 621.2"/>
<text transform="translate(711.3 628.5) scale(1.2 1)">5</text>
<path d="M487.6 587.5C486.6 589 483 593.4 481.4 596.3C479.7 599.2 478 602.2 477.6 605.1C477.2 608 477.8 610.9 478.8 613.8C479.9 616.8 481.6 620.1 483.9 622.6C486.2 625.1 489.5 626.9 492.6 628.9C495.8 630.9 499.7 633.1 502.7 634.5C505.6 636 507.3 636.8 510.2 637.7C513.1 638.5 516.9 639.2 520.2 639.5C523.5 639.8 526.9 639.7 530.2 639.5C533.6 639.3 537.3 638.8 540.3 638.3C543.2 637.8 546.5 636.7 547.8 636.4" style="stroke-width:1.3;"/>
<path d="M490.8 589C489.6 590.5 485.8 594.8 484.1 597.6C482.5 600.3 481.2 603 480.9 605.7C480.5 608.4 481.1 611.3 482.1 613.8C483.1 616.4 484.6 618.7 486.6 620.7C488.6 622.8 491.3 624.5 494.1 626.4C497 628.3 502.3 631.1 503.9 632"/>
<path d="M470.1 575L506.4 595.1L506.4 635.2"/>
<path d="M491.4 575L491.4 627.6" style="stroke-width:1.8;"/>
<path d="M498.3 575L498.3 628.9"/>
<path d="M494.8 600.1L495.4 627.6" style="stroke-width:2.2;"/>
<path d="M501.4 597.6L502.7 630.1" style="stroke-width:1.4;"/>
<path d="M498.9 596.9L501.4 597.6"/>
<path d="M482 606.3L490.1 603.2L490.1 618.2L483.2 616.4Z" style="stroke-width:0.8;fill:#555;"/>
<path d="M483.2 612.6L493.9 616.4"/>
<path d="M484.5 627.6L483.2 633.9L508.3 647.1L507.7 637"/>
<path d="M473.8 641.4L483.2 633.9"/>
<path d="M477.6 650.2L495.1 660.2L505.2 655.2L508.3 647.1"/>
<ellipse cx="477.6" cy="644.2" rx="4.5" ry="3.8" transform="rotate(-30 477.6 644.2)"/>
<ellipse cx="477" cy="643.7" rx="2.3" ry="1.9" transform="rotate(-30 477 643.7)"/>
<path d="M468.8 623.9L470.7 622.4L472.8 624.5L473.3 630.1L470.3 632L468.8 630.1Z"/>
<path d="M470.3 632L477.6 637.7L482 634.9" style="stroke-width:1.6;"/>
<path d="M508.3 647.1L512.7 650.2L520.2 652.9L530.2 655.2L532.1 648.9L533.4 645.2L544 645.2"/>
<path d="M510.2 656.5L520.2 661.7L527.7 658L530.2 655.2" style="stroke-width:1.5;"/>
<path d="M520.2 653.3L520.2 660.8L523 660.8L523 653.3Z" style="fill:#fff;"/>
<ellipse cx="495.1" cy="652.1" rx="4.5" ry="4"/>
<ellipse cx="498.9" cy="656.7" rx="2.8" ry="2.8"/>
<path d="M505.2 651.7C505.7 651.3 507.1 649.6 508.3 649.6C509.4 649.5 511.4 651.1 512.1 651.4"/>
<path d="M490.1 633.9L498.9 637.7L506.4 640.2" style="stroke-width:0.8;stroke-dasharray:2 2;stroke-linecap:butt;"/>
<path d="M493.9 664.6L498.9 665.2L502.7 662.7" style="stroke-width:0.8;stroke-dasharray:2 2;stroke-linecap:butt;"/>
<path d="M521.5 665.2L532.7 671.5" style="stroke-width:0.8;stroke-dasharray:3 2;stroke-linecap:butt;"/>
<path d="M526.5 643.3L532.7 643.9L532.1 647.1" style="stroke-width:0.8;stroke-dasharray:2 2;stroke-linecap:butt;"/>
<path d="M507.7 637L520.2 628.3L535.2 617.6L552.8 607.6L571.6 597.3"/>
<path d="M523.3 626.4L533.4 626.4L527.7 636.4"/>
<path d="M535.2 625.8L541.5 630.1L552.8 622.6"/>
<path d="M559 621.4C559.9 620.7 562.2 617.8 564.1 617.6C565.9 617.4 568.7 619.3 570.3 620.1C572 620.9 573.5 622 574.1 622.4"/>
<path d="M533.4 646.4L533.4 674"/>
<path d="M543.8 645.2L543.8 674" style="stroke-width:0.95;stroke-dasharray:3 1.5;stroke-linecap:butt;"/>
<path d="M540.9 645.2L540.9 674"/>
<path d="M480.1 650.2C480.2 652.3 479.9 659.2 480.7 662.7C481.6 666.3 484.4 670 485.1 671.5"/>
<path d="M483.9 655.2L484.5 665.2" style="stroke-width:1.6;"/>
<path d="M477.5 652.5L481.2 660L482.5 670L486.2 675L510 687.5L515 690L526.2 688.8L532.5 685L533.8 645"/>
<path d="M510 687.5L508.8 670L512.5 655"/>
<path d="M542.5 645L543.8 685L550 690L558.8 693.8"/>
<path d="M532.5 685L543.8 685"/>
<path d="M547.5 676.2L560 673.8L561.2 681.2L566.2 682.5L565 690L557.5 693.8L548.8 690Z" style="fill:#fff;"/>
<path d="M551.2 677.5L552.5 688.8"/>
<path d="M538.8 645L540 685" style="stroke-width:0.95;stroke-dasharray:2.5 1.5;stroke-linecap:butt;"/>
<path d="M515 690L516.2 692.5L520 692"/>
<path d="M491.2 686.2C490.6 686.2 489.8 684.6 487.5 686.2C485.2 687.9 479.7 692.7 477.5 696.2C475.3 699.8 474.6 704 474.2 707.5C473.9 711 474.1 713.8 475.5 717.5C476.9 721.2 479.2 725.3 482.5 730C485.8 734.7 493.3 742.9 495.5 745.5"/>
<path d="M495.5 745.5L523.8 753L563 730L523.8 706.2L521.2 701.2L491.2 686.2"/>
<ellipse cx="488.8" cy="711.8" rx="5.5" ry="3.5"/>
<path d="M475 711.8L483.2 711.8"/>
<path d="M506.2 721.2L515 716.2L545 732.5L536.2 738Z"/>
<path d="M563 730L583.8 730"/>
<text transform="translate(589.3 733.5) scale(1.2 1)">8</text>
<path d="M521.2 665L521.2 692.5"/>
<path d="M521.2 695L521.2 727"/>
<path d="M404.2 416.5L404.2 603L472.5 641.5" style="stroke-width:0.95;stroke-dasharray:70 2.5 1.5 2.5 72 2.5 1.5 2.5 40 2.5 1.5 2.5 60 0;stroke-linecap:butt;"/>
<path d="M424.3 506L432.5 502.2L433.4 536.3L425.6 540.7Z"/>
<path d="M425.9 505.4L426.9 540"/>
<path d="M439.4 489.1L431.6 503"/>
<text transform="translate(441.7 486.5) scale(1.2 1)">6</text>
<path d="M423 522.4L415.5 519.3L415.5 545.3L506.2 594.4" style="stroke-width:0.95;stroke-dasharray:83 2.5 1.5 2.5 60 0;stroke-linecap:butt;"/>
<path d="M491.5 425.1L455.9 445.9L456.4 562.3L492.3 543.8L492.3 600" style="stroke-width:0.95;stroke-dasharray:69 2.5 1.5 2.5 47 2.5 1.5 2.5 200 0;stroke-linecap:butt;"/>
<path d="M564.3 496.3L557.4 499.7L557.4 632" style="stroke-width:0.9;"/>
<path d="M538.3 495.2L538.3 491.8C538.3 490.2 539.2 489.4 540.6 489.4L545.8 489.4C547.2 489.4 548.1 490.2 548.1 491.8L548.1 495.2C546.2 497 540.2 497 538.3 495.2Z" style="fill:#fff;"/>
<path d="M539.9 496.4L539.9 499C541.2 500.4 545.2 500.4 546.5 499L546.5 496.4" style="fill:#fff;"/>
<path d="M539.9 497.6L546.5 497.6M539.9 498.8L546.5 498.8" style="stroke-width:0.9;"/>
<path d="M523.6 493L538.3 494.3"/>
<text transform="translate(517.5 497) scale(1.2 1)">7</text>
<path d="M543.5 502.5L543.5 640" style="stroke-width:0.9;"/>
<path d="M492.3 499.5L494.7 495L501.1 495L503.5 499.5L503.5 503L492.3 503Z" style="fill:#fff;"/>
<ellipse cx="497.9" cy="497" rx="4.6" ry="2"/>
<path d="M495.6 498.8L495.6 503M500.2 498.8L500.2 503" style="stroke-width:0.9;"/>
<ellipse cx="497.9" cy="504" rx="6.6" ry="2.8" class="w"/>
<ellipse cx="497.9" cy="507" rx="4.4" ry="2" class="w"/>
<path d="M495.6 509L495.6 517.5L500.2 517.5L500.2 509Z" style="fill:#fff;"/>
<path d="M495.6 510.8L500.2 510.8" style="stroke-width:0.9;"/>
<path d="M495.6 512.8L500.2 512.8" style="stroke-width:0.9;"/>
<path d="M495.6 514.8L500.2 514.8" style="stroke-width:0.9;"/>
<path d="M495.6 516.8L500.2 516.8" style="stroke-width:0.9;"/>
<path d="M516.2 512.5L518.6 508L525 508L527.4 512.5L527.4 516L516.2 516Z" style="fill:#fff;"/>
<ellipse cx="521.8" cy="510" rx="4.6" ry="2"/>
<path d="M519.5 511.8L519.5 516M524.1 511.8L524.1 516" style="stroke-width:0.9;"/>
<ellipse cx="521.8" cy="517" rx="6.6" ry="2.8" class="w"/>
<ellipse cx="521.8" cy="520" rx="4.4" ry="2" class="w"/>
<path d="M519.5 522L519.5 530.5L524.1 530.5L524.1 522Z" style="fill:#fff;"/>
<path d="M519.5 523.8L524.1 523.8" style="stroke-width:0.9;"/>
<path d="M519.5 525.8L524.1 525.8" style="stroke-width:0.9;"/>
<path d="M519.5 527.8L524.1 527.8" style="stroke-width:0.9;"/>
<path d="M519.5 529.8L524.1 529.8" style="stroke-width:0.9;"/>
<path d="M476.2 502.2L491.1 502.2"/>
<text transform="translate(468.9 506.5) scale(1.2 1)">9</text>
<path d="M485.4 531.1L515.8 520.7"/>
<text transform="translate(477.1 536) scale(1.2 1)">9</text>
<path d="M498.4 520L498.4 600" style="stroke-width:0.9;stroke-dasharray:2.5 3 70 0;stroke-linecap:butt;"/>
<path d="M521.8 535L521.8 650" style="stroke-width:0.9;stroke-dasharray:60 2.5 1.5 2.5 60 0;stroke-linecap:butt;"/>
<g transform="translate(651.9 432.1) rotate(-24) scale(1.04)"><ellipse cx="0" cy="1.5" rx="6.4" ry="5.4" class="w"/><ellipse cx="0" cy="-0.6" rx="5" ry="4.2" class="w"/><ellipse cx="0" cy="-1.8" rx="3.4" ry="2.6"/><path d="M-2.3 7L-2.3 16L2.3 16L2.3 7Z" class="w"/><path d="M-2.5 8.9L2.5 7.9" style="stroke-width:.9"/><path d="M-2.5 10.8L2.5 9.8" style="stroke-width:.9"/><path d="M-2.5 12.7L2.5 11.7" style="stroke-width:.9"/><path d="M-2.5 14.6L2.5 13.6" style="stroke-width:.9"/></g>
<path d="M658.8 428.6L671 422.5"/>
<text transform="translate(677.9 424) scale(1.2 1)">9</text>
<path d="M658.3 447.2L677 493.7"/>
<path d="M682 359.3L744.5 394.4L744.5 417.6" style="stroke-width:1.05;stroke-dasharray:25.5 2 1.5 2 80 0;stroke-linecap:butt;"/>
<g transform="translate(767 381.9) rotate(-22) scale(0.92)"><ellipse cx="0" cy="1.5" rx="6.4" ry="5.4" class="w"/><ellipse cx="0" cy="-0.6" rx="5" ry="4.2" class="w"/><ellipse cx="0" cy="-1.8" rx="3.4" ry="2.6"/><path d="M-2.3 7L-2.3 15.5L2.3 15.5L2.3 7Z" class="w"/><path d="M-2.5 8.9L2.5 7.9" style="stroke-width:.9"/><path d="M-2.5 10.8L2.5 9.8" style="stroke-width:.9"/><path d="M-2.5 12.7L2.5 11.7" style="stroke-width:.9"/><path d="M-2.5 14.6L2.5 13.6" style="stroke-width:.9"/></g>
<path d="M773.9 380.7L786.5 375.7"/>
<text transform="translate(794 376.5) scale(1.2 1)">14</text>
<path d="M772.7 395.1L790.9 440.2"/>
<path d="M736 414.7L788.9 402.6L796.7 401.7L798.4 404.3L796.7 409.5L789.7 411.3" style="stroke-width:0.9;stroke-dasharray:6 1.5 1 1.5;stroke-linecap:butt;"/>
<path d="M762.9 413L792.3 407.8" style="stroke-width:0.9;stroke-dasharray:6 1.5 1 1.5;stroke-linecap:butt;"/>
<ellipse cx="790.3" cy="405.6" rx="2.1" ry="1.2" style="stroke-width:0.9;"/>
<path d="M783.7 417.3L795.8 413.9L796.2 409.5" style="stroke-width:0.9;stroke-dasharray:6 1.5 1 1.5;stroke-linecap:butt;"/>
<path d="M735.1 415.6L740.3 421.7L740.3 437.3"/>
<path d="M740.3 421.7L753.3 419.4L754.2 434.7L742 440.8" style="stroke-width:0.9;"/>
<ellipse cx="746.9" cy="427.8" rx="3.5" ry="2.6" style="stroke-width:0.9;"/>
<path d="M736 415.3C735.4 415.9 733.7 418.2 732.5 419.1C731.3 419.9 729.8 419.7 729 420.5C728.3 421.2 727.9 422.5 728.2 423.4C728.5 424.3 729.7 425.5 730.8 425.7C731.9 425.9 733.9 423.9 734.8 424.6C735.6 425.4 735.8 429.4 736 430.4" style="stroke-width:1.3;"/>
<ellipse cx="730.8" cy="422.7" rx="1" ry="0.9"/>
<path d="M753.3 419.4L768.9 413" style="stroke-width:1.4;"/>
<path d="M768.9 413L774.1 425.7" style="stroke-width:0.9;stroke-dasharray:5 2;stroke-linecap:butt;"/>
<path d="M756.8 426L797.5 452" style="stroke-width:0.9;"/>
<path d="M756.8 432.1L795.8 455.9" style="stroke-width:0.9;"/>
<path d="M755.9 427.8L755.9 434.7" style="stroke-width:0.9;"/>
<path d="M758.5 428.6L796.7 453.4" style="stroke-width:0.8;"/>
<path d="M768.9 413L814.9 434.7L809.7 443.4L798.4 452" style="stroke-width:0.9;stroke-dasharray:10 1.5 1 1.5;stroke-linecap:butt;"/>
<ellipse cx="780.5" cy="427.8" rx="0.9" ry="0.9" style="stroke-width:0.9;"/>
<ellipse cx="798.8" cy="438.5" rx="1" ry="1" style="stroke-width:0.9;"/>
<ellipse cx="804" cy="441.3" rx="1" ry="1" style="stroke-width:0.9;"/>
<ellipse cx="804.8" cy="451.7" rx="1.7" ry="1.2" style="stroke-width:0.9;"/>
<ellipse cx="789.2" cy="432.6" rx="8.3" ry="2.9" transform="rotate(-45 789.2 432.6)"/>
<ellipse cx="788.9" cy="433.3" rx="6.9" ry="1.7" transform="rotate(-45 788.9 433.3)" style="stroke-width:0.8;"/>
<path d="M814.9 433.8C815.3 432.8 816.8 429.6 817.5 427.8C818.2 425.9 818.9 423.4 819.2 422.5" style="stroke-width:0.9;"/>
<path d="M819.2 422.5L831.4 421.2L832.6 428.6L829.6 437.3L820.1 450.3L811.4 459" style="stroke-width:0.9;stroke-dasharray:12 1.5 1 1.5;stroke-linecap:butt;"/>
<ellipse cx="824.4" cy="425.3" rx="2.1" ry="1.2" style="stroke-width:0.9;"/>
<ellipse cx="825.3" cy="441.6" rx="5.2" ry="1.2" transform="rotate(-57 825.3 441.6)" style="stroke-width:0.9;"/>
<path d="M811.4 459L809.7 472.9L814 473.7L816.6 464.2L814 459" style="stroke-width:1.3;"/>
<path d="M804.5 459L803.6 469.4L806.6 471.1L809.7 462.4" style="stroke-width:1.3;"/>
<ellipse cx="812.3" cy="460.7" rx="1.2" ry="1.6"/>
<path d="M796.7 453.8L796.7 472.9" style="stroke-width:0.9;"/>
<path d="M801 455.5L801 463.3" style="stroke-width:0.9;"/>
<ellipse cx="799.6" cy="459" rx="1" ry="2.4" style="stroke-width:0.8;"/>
<path d="M832.6 437.3L795.8 517.1" style="stroke-width:0.9;stroke-dasharray:30 2 1.5 2;stroke-linecap:butt;"/>
<path d="M801 465.9L786.3 494.5" style="stroke-width:0.9;stroke-dasharray:14 2 1.5 2;stroke-linecap:butt;"/>
<path d="M814.9 481.5C814.9 483 815.7 487.5 815.2 490.2C814.8 492.9 814.1 496 812.3 498C810.5 500 806.4 500.2 804.5 502.3C802.6 504.5 801.6 509.6 801 511" style="stroke-width:0.9;"/>
<path d="M801 504.1L814.9 511L816.6 521.4L812.3 522.3L798.4 512.7Z" style="stroke-width:1.2;"/>
<path d="M802.7 506.7L814 513.6" style="stroke-width:0.8;"/>
<path d="M801 509.3L813.5 516.6" style="stroke-width:0.8;"/>
<path d="M814.9 511L813.5 516.6L814 521.8" style="stroke-width:0.8;"/>
<ellipse cx="807.1" cy="495.1" rx="1.4" ry="1.7" style="stroke-width:0.9;"/>
<path d="M702.1 449.4L736.8 431.2" style="stroke-width:0.9;stroke-dasharray:26 2 1.5 2;stroke-linecap:butt;"/>
<path d="M710.8 465L755.9 439" style="stroke-width:0.9;stroke-dasharray:7 2;stroke-linecap:butt;"/>
<path d="M768.9 413L709.1 470.3"/>
<path d="M790.6 452.9L754.5 483.2" style="stroke-width:0.95;stroke-dasharray:26 2.5 2.5 2.5 60 0;stroke-linecap:butt;"/>
<path d="M745.6 476.5C745.8 475.3 747 474 748.2 473.4C749.4 472.7 751.8 472.4 752.9 472.6C754 472.9 754.7 473.9 755 474.9C755.2 475.9 755.1 477.6 754.5 478.5C753.9 479.5 752.6 480.4 751.4 480.6C750.1 480.9 748.2 480.8 747.2 480.1C746.2 479.4 745.5 477.6 745.6 476.5Z" style="stroke-width:1.3;"/>
<ellipse cx="751.1" cy="476" rx="1.5" ry="1.3" style="stroke-width:1.2;"/>
<path d="M745.6 480.1C745.5 480.8 744.6 482.4 744.6 484.3C744.6 486.1 744.7 488.9 745.6 491C746.6 493.1 748.3 495.1 750.3 496.7C752.3 498.4 755.8 500.3 757.6 500.9C759.4 501.4 760.2 499.3 761.2 499.8C762.3 500.3 762.3 502.9 763.8 504C765.3 505.1 768.7 505.5 770 506.6C771.4 507.7 770.7 510.8 772.1 510.7C773.5 510.6 777.7 508 778.3 506.1C779 504.1 777 500.9 776.3 498.8C775.6 496.7 775.2 494.7 774.2 493.6C773.2 492.5 771.1 492 770 492C769 492 768.8 494 768 493.6C767.1 493.2 766 490.7 764.8 489.4C763.7 488.2 762.4 486.2 761.2 485.8C760 485.4 758.8 487.1 757.6 486.9C756.4 486.6 754.6 485.2 753.9 484.3C753.3 483.3 753.5 481.7 753.4 481.1" style="stroke-width:1.3;"/>
<ellipse cx="747.7" cy="490" rx="0.7" ry="1.2" style="fill:#000;"/>
<path d="M751.4 485.3C751.6 486.3 751.9 489.9 752.9 491.5C753.9 493.1 755.9 494.8 757.6 494.8C759.2 494.8 761.9 492.1 762.8 491.5" style="stroke-width:1.3;"/>
<path d="M753.9 484.3C754 485.2 753.8 488.7 754.5 490C755.2 491.3 757 492.1 758.1 492C759.2 492 760.7 489.9 761.2 489.4" style="stroke-width:1.2;"/>
<ellipse cx="765.1" cy="501.9" rx="3.5" ry="2.1" transform="rotate(-15 765.1 501.9)" style="stroke-width:1.6;"/>
<path d="M768 494.6L770.2 506.1" style="stroke-width:1.3;"/>
<path d="M762.8 491.5L766.9 498.8L771.6 500.9" style="stroke-width:1.3;"/>
<ellipse cx="774.7" cy="506.1" rx="0.8" ry="0.7" style="fill:#000;"/>
<path d="M762.3 494.6L764.8 498.8" style="stroke-width:1.6;"/>
<path d="M766.3 505.8L767.2 531"/>
<text transform="translate(767.4 541.1) scale(1.2 1)">13</text>
</svg>
</body></html>
